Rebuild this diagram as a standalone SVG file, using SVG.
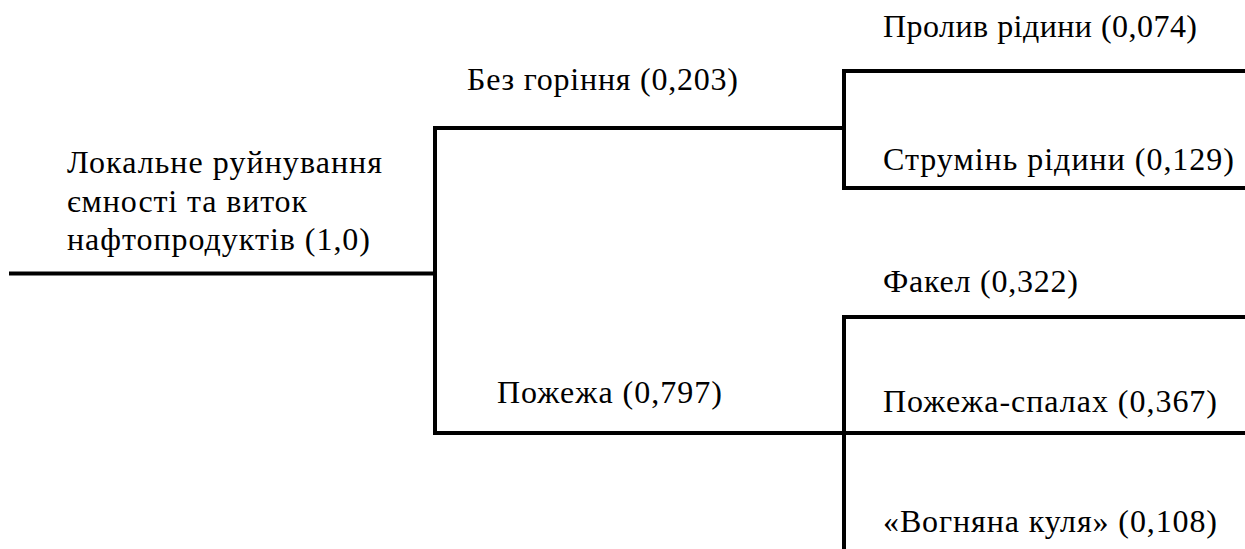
<svg xmlns="http://www.w3.org/2000/svg" width="1245" height="549" viewBox="0 0 1245 549">
  <style>
    .edge { fill: none; stroke: #000; stroke-width: 4; stroke-linecap: square; }
  </style>
  <rect width="1245" height="549" fill="#fff"/>

  <!-- tree branches -->
  <g id="connectors">
    <path class="edge" d="M11 273.5 H435"/>
    <path class="edge" d="M435 128 V433"/>
    <path class="edge" d="M435 128 H844"/>
    <path class="edge" d="M435 433 H844"/>
    <path class="edge" d="M844 71 V188"/>
    <path class="edge" d="M844 71 H1247"/>
    <path class="edge" d="M844 188 H1247"/>
    <path class="edge" d="M844 317 V551"/>
    <path class="edge" d="M844 317 H1247"/>
    <path class="edge" d="M844 433 H1247"/>
  </g>

  <!-- labels in a Times-metric serif -->
  <g font-family="Liberation Serif, Times New Roman, DejaVu Serif, serif" font-size="32" fill="#000" lengthAdjust="spacing">
    <g id="root">
      <text x="67" y="173" textLength="315">Локальне руйнування</text>
      <text x="67" y="212" textLength="240">ємності та виток</text>
      <text x="67" y="250" textLength="303">нафтопродуктів (1,0)</text>
    </g>
    <g id="no-fire">
      <text x="467" y="90" textLength="271">Без горіння (0,203)</text>
    </g>
    <g id="fire">
      <text x="497" y="403" textLength="225">Пожежа (0,797)</text>
    </g>
    <g id="spill">
      <text x="883" y="37" textLength="314">Пролив рідини (0,074)</text>
    </g>
    <g id="jet">
      <text x="883" y="170" textLength="351">Струмінь рідини (0,129)</text>
    </g>
    <g id="torch">
      <text x="883" y="292" textLength="195">Факел (0,322)</text>
    </g>
    <g id="flash-fire">
      <text x="883" y="412" textLength="334">Пожежа-спалах (0,367)</text>
    </g>
    <g id="fireball">
      <text x="883" y="532" textLength="334">«Вогняна куля» (0,108)</text>
    </g>
  </g>
</svg>
